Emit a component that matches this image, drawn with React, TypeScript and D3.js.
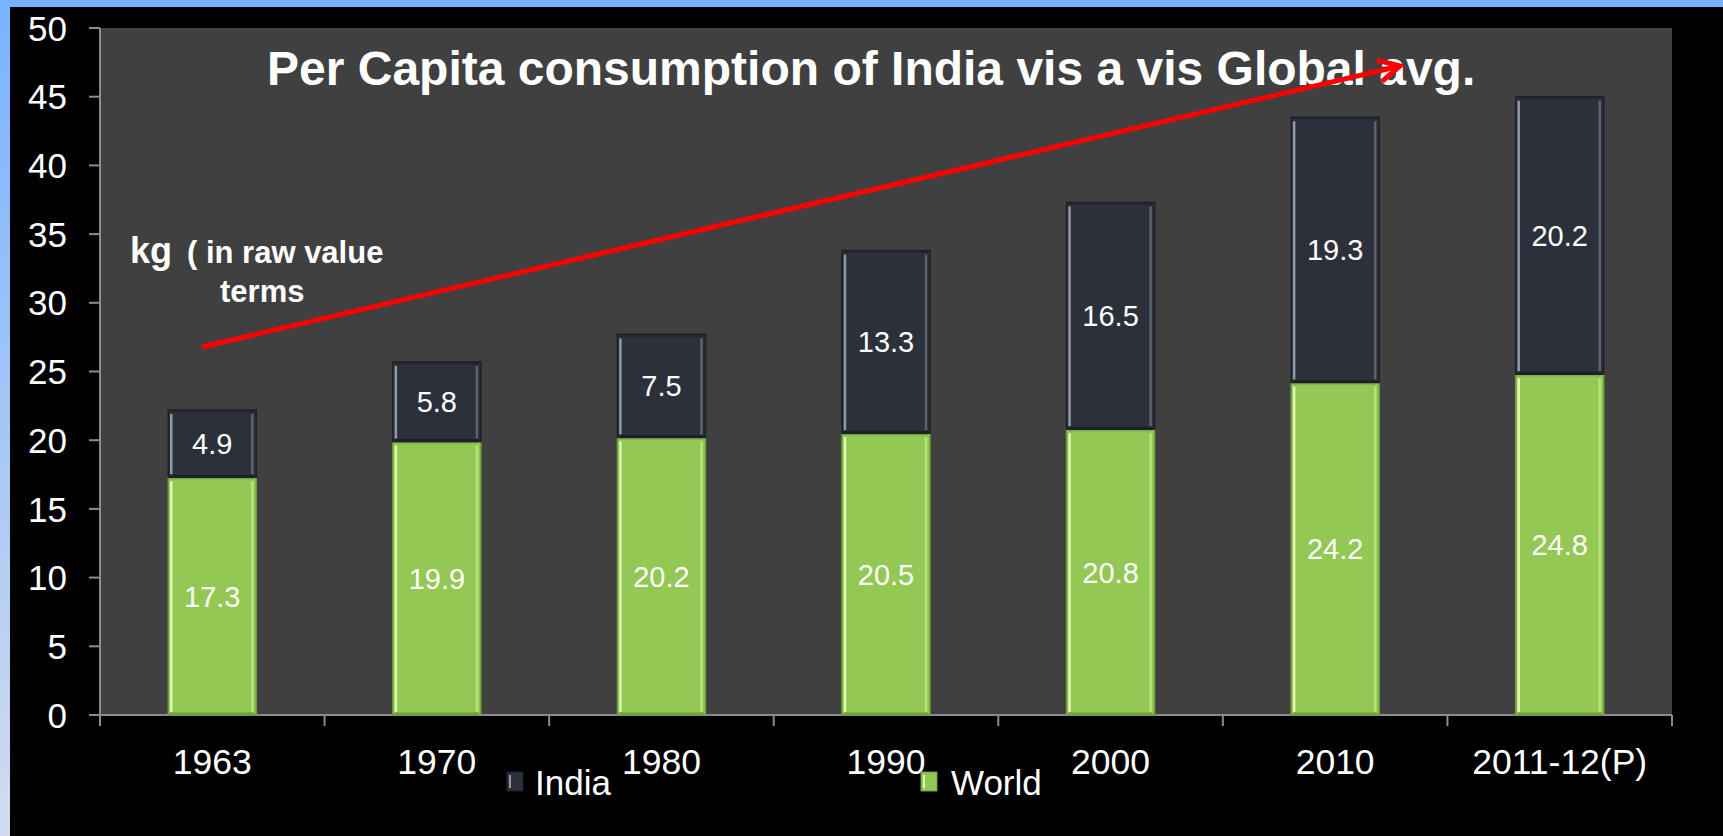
import React from "react";
import * as d3 from "d3";

const categories = ["1963", "1970", "1980", "1990", "2000", "2010", "2011-12(P)"];
const worldValues = [17.3, 19.9, 20.2, 20.5, 20.8, 24.2, 24.8];
const indiaValues = [4.9, 5.8, 7.5, 13.3, 16.5, 19.3, 20.2];
const yTicks = [0, 5, 10, 15, 20, 25, 30, 35, 40, 45, 50];
const seriesNames = ["India", "World"];
const titleText = "Per Capita consumption of India vis a vis Global avg.";

const W = 1723;
const H = 836;
const plot = { left: 100, right: 1672, top: 28, bottom: 715 };
const FONT = "'Liberation Sans', Arial, Helvetica, sans-serif";

const INDIA = { fill: "#2b303b", edge: "#1d2028", hi: "#9299a6", hi2: "#5d636f" };
const WORLD = { fill: "#92c853", edge: "#6f9d3a", hi: "#e2f9b5", hi2: "#b9e27f" };

function Bar({ x, y0, y1, w, c }: { x: number; y0: number; y1: number; w: number; c: typeof INDIA }) {
  const top = Math.min(y0, y1);
  const h = Math.abs(y1 - y0);
  return (
    <g>
      <rect x={x} y={top} width={w} height={h} fill={c.fill} stroke={c.edge} strokeWidth={1.5} />
      <line x1={x + 3} x2={x + 3} y1={top + 4} y2={top + h - 3} stroke={c.hi} strokeWidth={2.5} />
      <line x1={x + w - 4} x2={x + w - 4} y1={top + 4} y2={top + h - 3} stroke={c.hi2} strokeWidth={2.5} />
      <line x1={x + 2} x2={x + w - 2} y1={top + h - 1.5} y2={top + h - 1.5} stroke={c.edge} strokeWidth={2} />
      <line x1={x + 2} x2={x + w - 2} y1={top + 1.5} y2={top + 1.5} stroke={c.edge} strokeWidth={1.5} opacity={0.6} />
    </g>
  );
}

export default function App() {
  const x = d3
    .scaleBand<string>()
    .domain(categories)
    .range([plot.left, plot.right])
    .paddingInner(0.608)
    .paddingOuter(0.304);
  const y = d3.scaleLinear().domain([0, 50]).range([plot.bottom, plot.top]);
  const step = (plot.right - plot.left) / categories.length;
  const bw = x.bandwidth();

  const boundaries = d3.range(categories.length + 1).map((i) => plot.left + i * step);

  // arrow
  const ax1 = 202, ay1 = 347, ax2 = 1400, ay2 = 66;
  const ang = Math.atan2(ay2 - ay1, ax2 - ax1);
  const headLen = 24;
  const headAng = Math.PI / 6.5;
  const h1 = [ax2 - headLen * Math.cos(ang - headAng), ay2 - headLen * Math.sin(ang - headAng)];
  const h2 = [ax2 - headLen * Math.cos(ang + headAng), ay2 - headLen * Math.sin(ang + headAng)];

  const legendItems = [
    { name: seriesNames[0], c: INDIA, mx: 507, tx: 535 },
    { name: seriesNames[1], c: WORLD, mx: 921, tx: 951 },
  ];

  return (
    <div style={{ position: "fixed", left: 0, top: 0, width: W, height: H }}>
      <svg width={W} height={H} style={{ display: "block" }} fontFamily={FONT}>
        <defs>
          <linearGradient id="leftBlue" x1="0" y1="0" x2="0" y2="1">
            <stop offset="0" stopColor="#78b3ff" />
            <stop offset="0.5" stopColor="#a4c6f6" />
            <stop offset="1" stopColor="#d2dcee" />
          </linearGradient>
        </defs>
        <rect x={0} y={0} width={W} height={H} fill="#000" />
        <rect x={0} y={0} width={W} height={7} fill="#78b3ff" />
        <rect x={0} y={0} width={10} height={H} fill="url(#leftBlue)" />

        <rect x={plot.left} y={plot.top} width={plot.right - plot.left} height={plot.bottom - plot.top} fill="#404040" />

        {/* axes */}
        <line x1={plot.left} x2={plot.left} y1={plot.top} y2={plot.bottom + 11} stroke="#8c8c8c" strokeWidth={2} />
        <line x1={plot.left - 11} x2={plot.right} y1={plot.bottom} y2={plot.bottom} stroke="#8c8c8c" strokeWidth={2} />
        {yTicks.map((t) => (
          <g key={t}>
            <line x1={plot.left - 11} x2={plot.left} y1={y(t)} y2={y(t)} stroke="#8c8c8c" strokeWidth={2} />
            <text x={67} y={y(t)} dy="0.36em" textAnchor="end" fill="#fff" fontSize={35}>
              {t}
            </text>
          </g>
        ))}
        {boundaries.map((b, i) => (
          <line key={i} x1={b} x2={b} y1={plot.bottom} y2={plot.bottom + 11} stroke="#8c8c8c" strokeWidth={2} />
        ))}

        {/* bars */}
        {categories.map((c, i) => {
          const bx = x(c)!;
          const w0 = worldValues[i];
          const i0 = indiaValues[i];
          return (
            <g key={c}>
              <Bar x={bx} y0={y(0)} y1={y(w0)} w={bw} c={WORLD} />
              <Bar x={bx} y0={y(w0)} y1={y(w0 + i0)} w={bw} c={INDIA} />
              <text x={bx + bw / 2} y={(y(0) + y(w0)) / 2} dy="0.36em" textAnchor="middle" fill="#fff" fontSize={29}>
                {w0.toFixed(1)}
              </text>
              <text x={bx + bw / 2} y={(y(w0) + y(w0 + i0)) / 2} dy="0.36em" textAnchor="middle" fill="#fff" fontSize={29}>
                {i0.toFixed(1)}
              </text>
              <text x={bx + bw / 2} y={774} textAnchor="middle" fill="#fff" fontSize={35.5}>
                {c}
              </text>
            </g>
          );
        })}

        {/* title */}
        <text x={267} y={85} fill="#fff" fontSize={48} fontWeight="bold">
          {titleText}
        </text>

        {/* unit note */}
        <text x={130} y={263} fill="#fff" fontWeight="bold">
          <tspan fontSize={36}>kg</tspan>
          <tspan x={187} fontSize={31}>( in raw value</tspan>
        </text>
        <text x={220} y={302} fill="#fff" fontWeight="bold" fontSize={31}>
          terms
        </text>

        {/* arrow */}
        <g stroke="#ff0000" strokeWidth={5} strokeLinecap="butt" fill="none">
          <line x1={ax1} y1={ay1} x2={ax2} y2={ay2} />
          <polyline points={`${h1[0]},${h1[1]} ${ax2},${ay2} ${h2[0]},${h2[1]}`} strokeLinejoin="miter" />
        </g>

        {/* legend */}
        {legendItems.map((l) => (
          <g key={l.name}>
            <rect x={l.mx} y={772} width={16} height={19} fill={l.c.fill} stroke={l.c.edge} strokeWidth={1} />
            <line x1={l.mx + 3} x2={l.mx + 3} y1={775} y2={788} stroke={l.c.hi} strokeWidth={2} />
            <text x={l.tx} y={795} fill="#fff" fontSize={35}>
              {l.name}
            </text>
          </g>
        ))}
      </svg>
    </div>
  );
}
